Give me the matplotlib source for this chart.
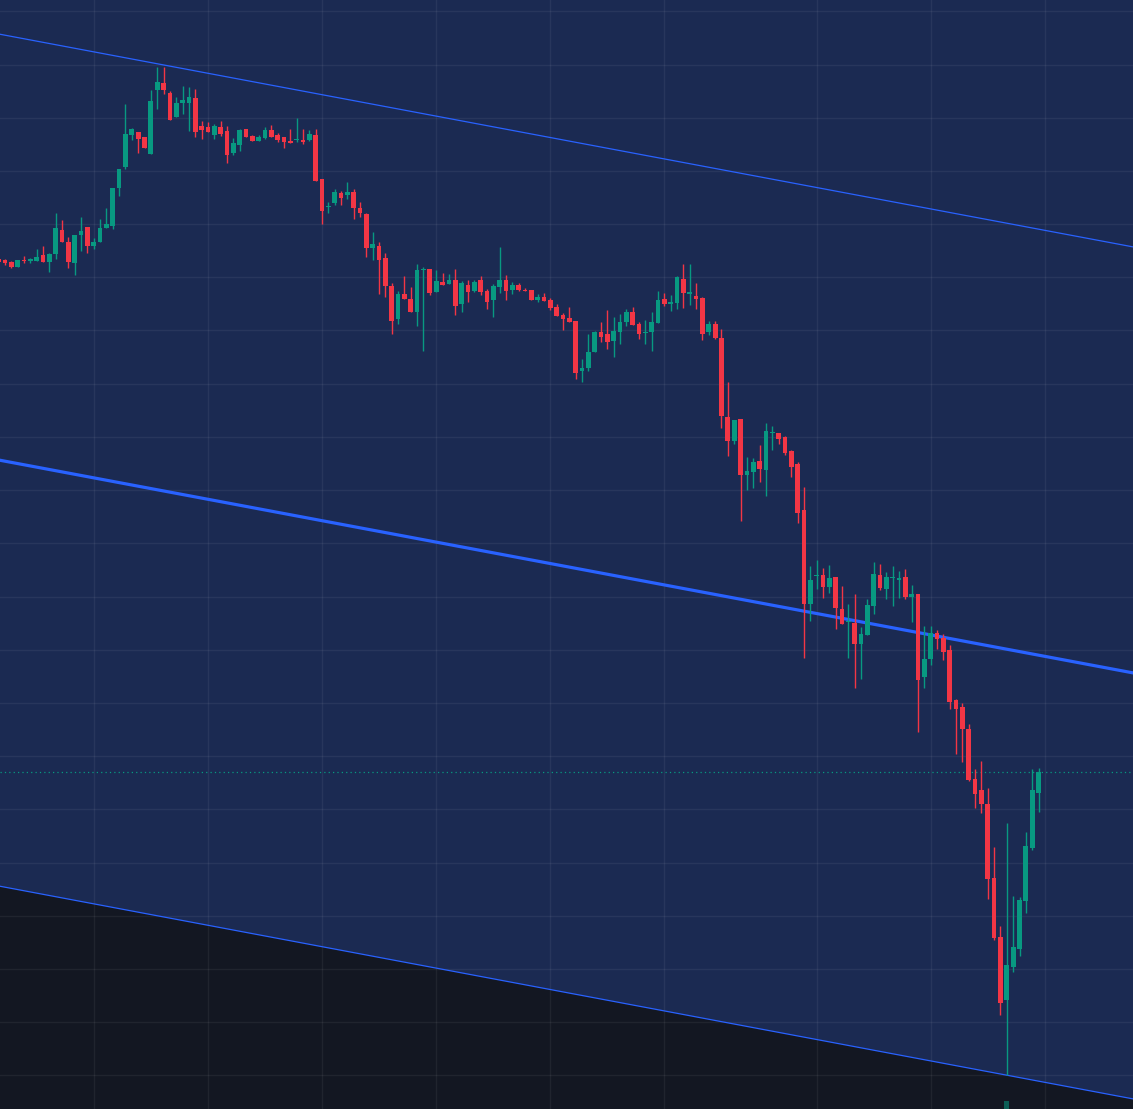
import numpy as np
import matplotlib
matplotlib.use("Agg")
import matplotlib.pyplot as plt

# OHLC, one entry per candle (price units of the chart)
opens = [850, 849, 847, 842, 849, 848, 848, 854, 847, 855,
         879, 867, 846, 874, 882, 863, 867, 881, 883, 921,
         942, 974, 977, 972, 955, 1019, 1026, 1016, 992, 1006,
         1006, 1011, 983, 982, 974, 982, 978, 956, 964, 980,
         973, 968, 971, 979, 974, 972, 968, 969, 969, 969,
         974, 930, 902, 906, 916, 914, 917, 901, 895, 861,
         863, 851, 823, 790, 815, 810, 797, 839, 840, 817,
         827, 825, 829, 805, 824, 818, 829, 818, 809, 822,
         829, 819, 824, 819, 819, 809, 812, 809, 802, 794,
         791, 788, 738, 741, 757, 777, 775, 768, 777, 787,
         797, 785, 776, 777, 786, 810, 805, 806, 830, 815,
         813, 811, 777, 785, 771, 692, 668, 690, 634, 637,
         648, 639, 676, 676, 672, 658, 645, 599, 505, 533,
         534, 522, 532, 500, 487, 486, 465, 474, 503, 534,
         520, 531, 529, 532, 512, 515, 432, 450, 476, 471,
         459, 409, 402, 380, 330, 319, 305, 231, 172, 109,
         142, 160, 208, 261, 316]
highs = [851, 850, 848, 849, 853, 851, 860, 863, 856, 896,
         889, 872, 874, 892, 882, 871, 890, 901, 921, 940,
         1005, 981, 977, 972, 1019, 1042, 1042, 1018, 1012, 1023,
         1022, 1020, 988, 987, 985, 988, 983, 971, 980, 980,
         974, 974, 982, 984, 976, 972, 980, 991, 980, 979,
         980, 930, 907, 920, 918, 927, 920, 907, 896, 877,
         867, 856, 826, 818, 833, 822, 845, 842, 840, 839,
         836, 835, 840, 828, 829, 829, 833, 820, 825, 862,
         834, 827, 826, 821, 819, 815, 816, 811, 805, 796,
         802, 788, 750, 775, 778, 787, 799, 792, 795, 800,
         802, 787, 789, 797, 818, 816, 814, 833, 845, 845,
         826, 812, 788, 788, 780, 727, 689, 690, 652, 651,
         664, 686, 683, 676, 673, 659, 647, 622, 543, 549,
         541, 544, 532, 523, 505, 515, 482, 510, 547, 545,
         537, 543, 538, 540, 524, 515, 483, 483, 479, 475,
         464, 410, 406, 385, 340, 348, 321, 262, 183, 286,
         213, 212, 277, 340, 341]
lows = [846, 844, 841, 842, 846, 846, 848, 847, 837, 850,
        867, 841, 834, 858, 856, 860, 867, 881, 880, 913,
        940, 969, 956, 961, 955, 1000, 1015, 989, 992, 995,
        978, 972, 970, 977, 970, 973, 946, 954, 958, 972,
        968, 968, 970, 972, 967, 961, 966, 967, 965, 968,
        928, 885, 896, 904, 904, 910, 890, 892, 852, 849,
        815, 812, 775, 785, 810, 797, 783, 758, 814, 817,
        824, 825, 794, 797, 807, 817, 814, 800, 792, 816,
        809, 815, 818, 818, 809, 807, 808, 799, 793, 779,
        787, 730, 727, 738, 757, 767, 760, 752, 765, 783,
        784, 770, 765, 758, 786, 803, 798, 800, 801, 804,
        800, 769, 774, 770, 681, 653, 665, 588, 619, 621,
        627, 613, 659, 665, 654, 632, 586, 451, 488, 520,
        511, 516, 480, 485, 451, 421, 430, 474, 495, 519,
        510, 503, 511, 510, 487, 377, 421, 444, 460, 449,
        400, 355, 347, 328, 301, 296, 210, 169, 94, 34,
        137, 153, 196, 259, 297]
closes = [847, 846, 842, 849, 848, 850, 852, 847, 855, 881,
          867, 847, 874, 878, 863, 867, 881, 885, 921, 940,
          975, 980, 970, 961, 1008, 1027, 1019, 989, 1006, 1009,
          1012, 977, 979, 977, 983, 975, 954, 966, 979, 972,
          968, 972, 979, 972, 969, 967, 966, 970, 967, 975,
          928, 898, 903, 917, 911, 917, 901, 896, 861, 865,
          849, 823, 788, 815, 810, 797, 839, 840, 816, 828,
          824, 829, 803, 826, 817, 827, 817, 807, 823, 829,
          818, 824, 819, 818, 809, 812, 808, 801, 793, 790,
          787, 736, 741, 757, 777, 772, 767, 778, 787, 797,
          784, 775, 777, 787, 809, 805, 807, 832, 816, 817,
          810, 775, 785, 771, 693, 668, 689, 634, 638, 647,
          640, 678, 677, 670, 656, 642, 596, 505, 529, 534,
          522, 531, 501, 485, 488, 465, 475, 504, 535, 521,
          532, 532, 531, 512, 515, 429, 450, 476, 470, 457,
          407, 400, 380, 329, 315, 305, 230, 171, 106, 144,
          162, 209, 263, 319, 337]

# volume spike peeking in at the bottom edge
vol_idx = [159]
vol_val = [8]

# regression channel: centre line at two candle positions, plus deviation
channel_idx = [0, 179]
channel_mid = [649, 436]
channel_dev = 426

# vertical grid (day boundaries) in candle index
time_grid = [15, 33, 51, 69, 87, 105, 129, 147, 165]

BG = "#131722"
FILL = "#1b2a52"
UP = "#089981"
DOWN = "#f23645"
LINE = "#2962ff"

o = np.array(opens, float)
h = np.array(highs, float)
l = np.array(lows, float)
c = np.array(closes, float)
idx = np.arange(len(o))
cols = np.where(c >= o, UP, DOWN)

fig = plt.figure(figsize=(11.33, 11.09), dpi=100)
ax = fig.add_axes([0, 0, 1, 1])
ax.set_facecolor(BG)
x0, x1 = 0.21, 178.9
ax.set_xlim(x0, x1)
ax.set_ylim(0, 1109)

cx = np.array(channel_idx, float)
cm = np.array(channel_mid, float)
slope = (cm[1] - cm[0]) / (cx[1] - cx[0])
xs = np.array([x0 - 2, x1 + 2])
mid = cm[0] + slope * (xs - cx[0])
ax.fill_between(xs, mid - channel_dev, 1200, color=FILL, lw=0, zorder=0)

# grid
for gy in np.arange(33.7, 1109, 53.2):
    ax.axhline(gy, color="white", alpha=0.06, lw=1, zorder=1)
for gx in time_grid:
    ax.axvline(gx, color="white", alpha=0.06, lw=1, zorder=1)

ax.plot(xs, mid, color=LINE, lw=2.3, zorder=2)
ax.plot(xs, mid + channel_dev, color=LINE, lw=0.9, zorder=2)
ax.plot(xs, mid - channel_dev, color=LINE, lw=0.9, zorder=2)

# last price line
ax.axhline(c[-1], color=UP, lw=0.9, ls=(0, (1, 2.5)), zorder=2)

# candles
ax.vlines(idx, l, h, colors=cols, lw=1.0, zorder=3)
body_lo = np.minimum(o, c)
body_h = np.maximum(np.abs(c - o), 1.0)
ax.bar(idx, body_h, bottom=body_lo, width=0.74, color=cols, lw=0, zorder=4)

ax.bar(vol_idx, vol_val, bottom=0, width=0.74, color=UP, alpha=0.55, lw=0, zorder=3)

ax.set_xticks([])
ax.set_yticks([])
for s in ax.spines.values():
    s.set_visible(False)

fig.savefig("out.png", dpi=100, facecolor=BG)
